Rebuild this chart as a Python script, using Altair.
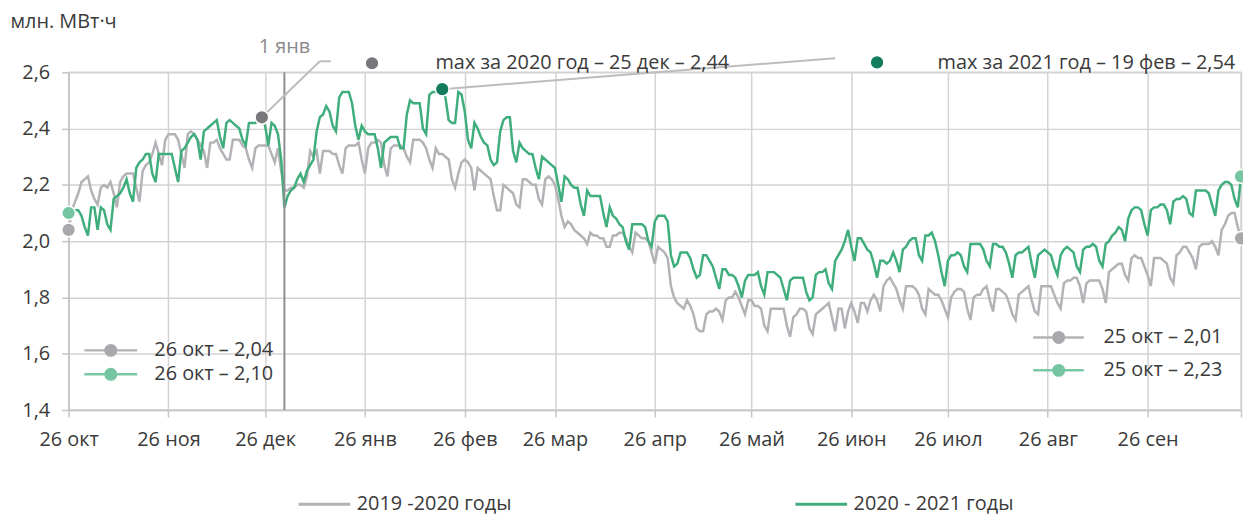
import altair as alt
import pandas as pd

START = "2020-10-26"
series_names = ["2019 -2020 годы", "2020 - 2021 годы"]
series_colors = ["#b3b3b7", "#3fae7c"]
month_abbr = ["янв", "фев", "мар", "апр", "май", "июн", "июл", "авг", "сен", "окт", "ноя", "дек"]
tick_dates = ["2020-10-26", "2020-11-26", "2020-12-26", "2021-01-26", "2021-02-26", "2021-03-26",
              "2021-04-26", "2021-05-26", "2021-06-26", "2021-07-26", "2021-08-26", "2021-09-26",
              "2021-10-25"]
y_ticks = [1.4, 1.6, 1.8, 2.0, 2.2, 2.4, 2.6]

# daily consumption, 26 Oct -> 25 Oct, million MWh
gray_values = [
    2.04, 2.11, 2.14, 2.17, 2.21, 2.22, 2.23, 2.18, 2.15, 2.13, 2.19, 2.20, 2.19, 2.21,
    2.17, 2.12, 2.21, 2.23, 2.24, 2.24, 2.24, 2.19, 2.14, 2.25, 2.27, 2.28, 2.31, 2.35,
    2.31, 2.27, 2.36, 2.38, 2.38, 2.38, 2.36, 2.31, 2.26, 2.38, 2.39, 2.38, 2.36, 2.34,
    2.32, 2.26, 2.35, 2.35, 2.36, 2.33, 2.31, 2.29, 2.29, 2.36, 2.36, 2.36, 2.34, 2.33,
    2.29, 2.26, 2.33, 2.34, 2.34, 2.34, 2.34, 2.31, 2.28, 2.33, 2.25, 2.18, 2.18, 2.19,
    2.19, 2.20, 2.20, 2.19, 2.23, 2.32, 2.30, 2.32, 2.24, 2.32, 2.32, 2.32, 2.31, 2.31,
    2.27, 2.24, 2.33, 2.34, 2.34, 2.34, 2.35, 2.29, 2.24, 2.33, 2.35, 2.35, 2.36, 2.35,
    2.27, 2.23, 2.33, 2.34, 2.34, 2.34, 2.33, 2.30, 2.28, 2.36, 2.36, 2.36, 2.35, 2.33,
    2.29, 2.26, 2.33, 2.31, 2.31, 2.30, 2.29, 2.22, 2.19, 2.24, 2.28, 2.29, 2.28, 2.26,
    2.18, 2.26, 2.25, 2.24, 2.23, 2.22, 2.16, 2.11, 2.11, 2.20, 2.19, 2.18, 2.17, 2.13,
    2.12, 2.22, 2.22, 2.21, 2.20, 2.20, 2.15, 2.13, 2.22, 2.23, 2.22, 2.20, 2.15, 2.09,
    2.05, 2.07, 2.06, 2.04, 2.03, 2.02, 2.01, 1.99, 2.03, 2.02, 2.02, 2.01, 2.01, 1.98,
    1.98, 2.02, 2.02, 2.03, 2.03, 2.01, 1.98, 1.96, 2.03, 2.02, 2.01, 2.01, 2.00, 1.96,
    1.92, 1.98, 1.97, 1.96, 1.94, 1.84, 1.80, 1.78, 1.77, 1.76, 1.79, 1.77, 1.74, 1.69,
    1.68, 1.68, 1.74, 1.75, 1.75, 1.76, 1.75, 1.72, 1.79, 1.80, 1.80, 1.82, 1.80, 1.77,
    1.74, 1.79, 1.79, 1.77, 1.77, 1.76, 1.70, 1.68, 1.76, 1.76, 1.76, 1.76, 1.76, 1.70,
    1.66, 1.73, 1.74, 1.76, 1.76, 1.75, 1.69, 1.67, 1.74, 1.75, 1.76, 1.77, 1.78, 1.73,
    1.68, 1.76, 1.76, 1.69, 1.75, 1.78, 1.75, 1.71, 1.78, 1.78, 1.75, 1.79, 1.81, 1.79,
    1.75, 1.84, 1.86, 1.87, 1.85, 1.83, 1.79, 1.76, 1.84, 1.84, 1.84, 1.83, 1.81, 1.76,
    1.74, 1.83, 1.82, 1.81, 1.81, 1.79, 1.76, 1.73, 1.80, 1.82, 1.83, 1.83, 1.82, 1.76,
    1.72, 1.80, 1.81, 1.81, 1.83, 1.84, 1.79, 1.75, 1.83, 1.83, 1.82, 1.81, 1.78, 1.74,
    1.72, 1.81, 1.82, 1.83, 1.84, 1.79, 1.75, 1.74, 1.84, 1.84, 1.84, 1.84, 1.81, 1.78,
    1.76, 1.85, 1.86, 1.86, 1.87, 1.87, 1.84, 1.78, 1.85, 1.86, 1.86, 1.86, 1.86, 1.83,
    1.78, 1.89, 1.90, 1.91, 1.92, 1.92, 1.88, 1.86, 1.94, 1.95, 1.94, 1.94, 1.91, 1.88,
    1.84, 1.94, 1.94, 1.94, 1.93, 1.92, 1.87, 1.85, 1.95, 1.96, 1.98, 1.98, 1.96, 1.94,
    1.90, 1.98, 1.99, 1.99, 1.99, 2.00, 1.98, 1.95, 2.04, 2.06, 2.09, 2.10, 2.10, 2.05,
    2.01,
]
green_values = [
    2.10, 2.11, 2.11, 2.11, 2.09, 2.05, 2.02, 2.12, 2.12, 2.04, 2.12, 2.11, 2.06, 2.04,
    2.15, 2.16, 2.17, 2.19, 2.22, 2.17, 2.14, 2.26, 2.28, 2.29, 2.31, 2.31, 2.24, 2.21,
    2.31, 2.31, 2.31, 2.31, 2.31, 2.26, 2.21, 2.32, 2.33, 2.35, 2.37, 2.38, 2.36, 2.29,
    2.39, 2.40, 2.41, 2.42, 2.43, 2.37, 2.33, 2.42, 2.43, 2.42, 2.41, 2.40, 2.36, 2.34,
    2.42, 2.42, 2.42, 2.43, 2.44, 2.41, 2.34, 2.42, 2.41, 2.38, 2.29, 2.12, 2.16, 2.18,
    2.19, 2.22, 2.24, 2.21, 2.25, 2.27, 2.29, 2.39, 2.44, 2.45, 2.48, 2.46, 2.41, 2.39,
    2.51, 2.53, 2.53, 2.53, 2.49, 2.41, 2.36, 2.41, 2.39, 2.38, 2.38, 2.38, 2.33, 2.26,
    2.35, 2.36, 2.37, 2.37, 2.37, 2.33, 2.33, 2.45, 2.50, 2.49, 2.49, 2.49, 2.40, 2.38,
    2.52, 2.53, 2.53, 2.54, 2.54, 2.51, 2.43, 2.42, 2.42, 2.53, 2.52, 2.46, 2.36, 2.33,
    2.42, 2.40, 2.37, 2.35, 2.34, 2.29, 2.27, 2.28, 2.39, 2.43, 2.44, 2.44, 2.32, 2.28,
    2.35, 2.33, 2.32, 2.31, 2.31, 2.26, 2.22, 2.30, 2.29, 2.28, 2.27, 2.26, 2.20, 2.14,
    2.23, 2.22, 2.20, 2.19, 2.19, 2.13, 2.09, 2.18, 2.16, 2.16, 2.16, 2.16, 2.10, 2.05,
    2.12, 2.09, 2.08, 2.06, 2.05, 2.00, 1.97, 2.06, 2.06, 2.06, 2.06, 2.05, 2.00, 1.98,
    2.07, 2.09, 2.09, 2.09, 2.07, 1.95, 1.91, 1.92, 1.96, 1.96, 1.96, 1.94, 1.90, 1.87,
    1.88, 1.95, 1.95, 1.93, 1.91, 1.87, 1.83, 1.90, 1.90, 1.88, 1.88, 1.87, 1.84, 1.80,
    1.86, 1.88, 1.88, 1.88, 1.89, 1.84, 1.81, 1.89, 1.89, 1.89, 1.88, 1.87, 1.83, 1.79,
    1.86, 1.87, 1.87, 1.87, 1.87, 1.82, 1.79, 1.80, 1.88, 1.89, 1.89, 1.90, 1.85, 1.83,
    1.93, 1.95, 1.97, 2.00, 2.04, 1.98, 1.93, 2.01, 2.01, 1.99, 1.97, 1.96, 1.92, 1.87,
    1.93, 1.93, 1.92, 1.93, 1.96, 1.93, 1.89, 1.97, 1.98, 2.00, 2.01, 2.01, 1.95, 1.93,
    2.02, 2.02, 2.03, 2.00, 1.95, 1.89, 1.84, 1.93, 1.95, 1.95, 1.96, 1.95, 1.91, 1.89,
    1.99, 1.99, 1.99, 1.99, 1.97, 1.93, 1.91, 1.99, 1.99, 1.98, 1.98, 1.96, 1.92, 1.87,
    1.95, 1.96, 1.96, 1.97, 1.98, 1.92, 1.87, 1.95, 1.96, 1.97, 1.96, 1.95, 1.91, 1.88,
    1.95, 1.97, 1.98, 1.97, 1.96, 1.91, 1.89, 1.97, 1.98, 1.98, 1.99, 1.98, 1.93, 1.91,
    1.99, 2.00, 2.02, 2.03, 2.05, 2.04, 2.00, 2.08, 2.11, 2.12, 2.12, 2.11, 2.06, 2.02,
    2.11, 2.12, 2.12, 2.13, 2.13, 2.11, 2.06, 2.14, 2.15, 2.15, 2.16, 2.15, 2.10, 2.09,
    2.18, 2.18, 2.18, 2.18, 2.17, 2.13, 2.09, 2.18, 2.20, 2.21, 2.21, 2.20, 2.15, 2.12,
    2.23,
]

FONT = "Open Sans"
FS = 20
TXT = "#3a3a3a"
GRID = "#d3d3d3"


def day(d):
    return pd.Timestamp(START) + pd.Timedelta(days=d)


def dt(s):
    t = pd.Timestamp(s)
    return alt.DateTime(year=t.year, month=t.month, date=t.day)


dates = pd.date_range(START, periods=len(green_values), freq="D")
n = len(dates)
lines_df = pd.DataFrame({
    "date": list(dates) + list(dates),
    "value": gray_values[:n] + green_values,
    "series": [series_names[0]] * n + [series_names[1]] * n,
})

month_js = "[" + ",".join("'" + m + "'" for m in month_abbr) + "]"
x_scale = alt.Scale(domain=[dt(tick_dates[0]), dt(tick_dates[-1])], nice=False)
y_scale = alt.Scale(domain=[1.4, 2.6], nice=False, zero=False)

x_axis = alt.Axis(
    values=[dt(s) for s in tick_dates],
    labelExpr="month(datum.value) == 9 && date(datum.value) == 25 ? '' : date(datum.value) + ' ' + "
              + month_js + "[month(datum.value)]",
    grid=True, gridColor=GRID, gridWidth=1.5,
    domainColor="#c6c6c6", domainWidth=1.5,
    tickColor="#c6c6c6", tickSize=7, tickWidth=1.5,
    labelFont=FONT, labelFontSize=FS, labelColor=TXT, labelPadding=13,
    labelOverlap=False, labelFlush=False, title=None,
)
y_axis = alt.Axis(
    values=y_ticks,
    labelExpr="replace(format(datum.value, '.1f'), '.', ',')",
    grid=True, gridColor=GRID, gridWidth=1.5,
    domainColor="#c6c6c6", domainWidth=1.5,
    tickColor="#c6c6c6", tickSize=7, tickWidth=1.5,
    labelFont=FONT, labelFontSize=FS, labelColor=TXT, labelPadding=12,
    title="млн. МВт·ч", titleAngle=0, titleAlign="left", titleBaseline="middle",
    titleX=-59, titleY=-51, titleFont=FONT, titleFontSize=FS, titleFontWeight="normal",
    titleColor=TXT,
)


def X(field="date"):
    return alt.X(field + ":T", scale=x_scale, axis=x_axis)


def Y(field="value"):
    return alt.Y(field + ":Q", scale=y_scale, axis=y_axis)


color_enc = alt.Color(
    "series:N",
    scale=alt.Scale(domain=series_names, range=series_colors),
    legend=alt.Legend(
        orient="none", legendX=230, legendY=407, direction="horizontal", title=None,
        symbolType="stroke", symbolSize=2704, symbolStrokeWidth=3,
        labelFont=FONT, labelFontSize=FS, labelColor=TXT, labelOffset=5, labelLimit=400,
        columnPadding=279,
    ),
)

base = alt.Chart(lines_df)
gray_line = base.transform_filter(alt.datum.series == series_names[0]).mark_line(
    strokeWidth=2.5).encode(x=X(), y=Y(), color=color_enc)
green_line = base.transform_filter(alt.datum.series == series_names[1]).mark_line(
    strokeWidth=2.5).encode(x=X(), y=Y(), color=color_enc)

# 1 Jan marker
jan_df = pd.DataFrame({"date": [day(67)], "value": [2.688], "label": ["1 янв"]})
jan_rule = alt.Chart(jan_df).mark_rule(color="#8e8e92", strokeWidth=2).encode(x=X())
jan_text = alt.Chart(jan_df).mark_text(font=FONT, fontSize=FS, color="#8a8a8a",
                                       baseline="middle").encode(x=X(), y=Y(), text="label:N")

# connectors to the yearly maxima
conn_df = pd.DataFrame({
    "date": [day(60), day(78.0), day(116)],
    "value": [2.44, 2.639, 2.54],
    "date2": [day(78.0), day(81.4), day(238.0)],
    "value2": [2.639, 2.639, 2.650],
})
connectors = alt.Chart(conn_df).mark_rule(color="#bdbdbd", strokeWidth=2).encode(
    x=X(), y=Y(), x2="date2:T", y2="value2:Q")

# dots: max points, start / end points, label markers
dots_df = pd.DataFrame({
    "date": [day(60), day(116), day(0), day(0), day(n - 1), day(n - 1), day(94.2), day(251.0)],
    "value": [2.44, 2.54, gray_values[0], green_values[0], gray_values[n - 1], green_values[n - 1],
              2.632, 2.635],
    "c": ["#78787c", "#137c5c", "#a9a9ad", "#76c5a2", "#a9a9ad", "#76c5a2", "#78787c", "#137c5c"],
})
dots = alt.Chart(dots_df).mark_circle(size=190, opacity=1, stroke="white", strokeWidth=1.5).encode(
    x=X(), y=Y(), color=alt.Color("c:N", scale=None))

# max texts
max_df = pd.DataFrame({
    "date": [day(113.9), day(269.8)],
    "value": [2.634, 2.634],
    "label": ["max за 2020 год – 25 дек – 2,44", "max за 2021 год – 19 фев – 2,54"],
})
max_text = alt.Chart(max_df).mark_text(font=FONT, fontSize=FS, color=TXT, align="left",
                                       baseline="middle").encode(x=X(), y=Y(), text="label:N")

# start / end value keys
key_df = pd.DataFrame({
    "date": [day(4.9), day(4.9), day(299.5), day(299.5)],
    "date2": [day(21.3), day(21.3), day(315.2), day(315.2)],
    "mid": [day(13.1), day(13.1), day(307.4), day(307.4)],
    "tdate": [day(26.6), day(26.6), day(321.3), day(321.3)],
    "value": [1.612, 1.527, 1.658, 1.541],
    "label": ["26 окт – 2,04", "26 окт – 2,10", "25 окт – 2,01", "25 окт – 2,23"],
    "lc": ["#b3b3b7", "#7cc8a6", "#b3b3b7", "#7cc8a6"],
    "dc": ["#a9a9ad", "#76c5a2", "#a9a9ad", "#76c5a2"],
})
key_lines = alt.Chart(key_df).mark_rule(strokeWidth=2.5).encode(
    x=X(), x2="date2:T", y=Y(), color=alt.Color("lc:N", scale=None))
key_dots = alt.Chart(key_df).mark_circle(size=170, opacity=1).encode(
    x=X("mid"), y=Y(), color=alt.Color("dc:N", scale=None))
key_text = alt.Chart(key_df).mark_text(font=FONT, fontSize=FS, color=TXT, align="left",
                                       baseline="middle").encode(
    x=X("tdate"), y=Y(), text="label:N")

chart = alt.layer(
    gray_line, green_line, jan_rule, jan_text, connectors, key_lines, key_dots, key_text,
    dots, max_text,
).properties(
    width=1180, height=340,
    padding={"left": 61, "top": 63, "right": 2, "bottom": 110},
    autosize=alt.AutoSizeParams(type="none"),
).configure_view(stroke=GRID, strokeWidth=1.5)

chart.save("out.html", embed_options={"renderer": "svg", "actions": False})
